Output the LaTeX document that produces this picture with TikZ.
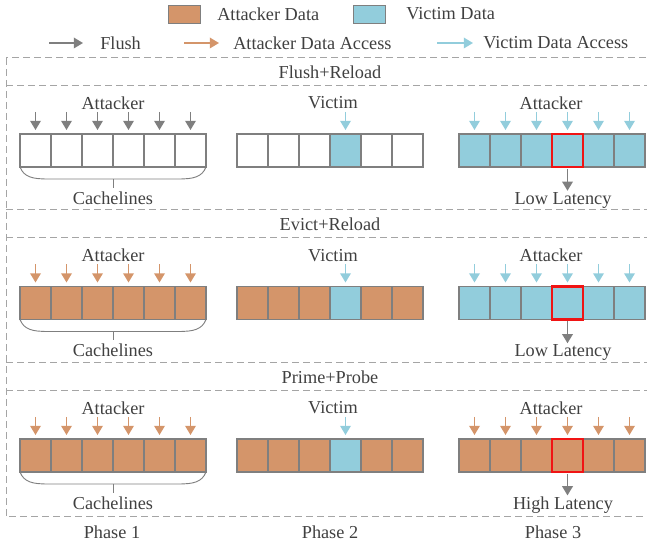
\documentclass[tikz,border=0pt]{standalone}
\usepackage{fontspec}
\setmainfont{Liberation Serif}
\usetikzlibrary{arrows.meta}
\definecolor{attk}{RGB}{212,149,106}
\definecolor{vict}{RGB}{146,205,220}
\definecolor{edge}{RGB}{127,127,127}
\definecolor{txt}{RGB}{64,64,64}
\definecolor{framec}{RGB}{165,165,165}
\definecolor{hot}{RGB}{240,20,20}

\begin{document}
\begin{tikzpicture}[x=0.75pt,y=-0.75pt,
  font=\fontsize{13.7}{16}\selectfont,
  cell/.style={draw=edge, line width=0.825pt, minimum width=23.25pt,
    minimum height=24.75pt, inner sep=0pt, outer sep=0pt},
  swatch/.style={draw=edge, line width=0.6pt, minimum width=24pt,
    minimum height=13.5pt, inner sep=0pt},
  lbl/.style={inner sep=0pt, text=txt},
  tipd/.style={-{Triangle[width=7.9pt,length=6.9pt]}, line width=1.35pt},
  flusharrow/.style={tipd, draw=edge},
  attarrow/.style={tipd, draw=attk},
  vicarrow/.style={tipd, draw=vict},
  sep/.style={draw=framec, dash pattern=on 5.25pt off 3pt, line width=0.75pt},
  bracel/.style={draw=edge, line width=0.675pt}]

\useasboundingbox (0,0) rectangle (647,541);

% legend
\node[swatch, fill=attk] (swA) at (184,14) {};
\node[lbl, anchor=west] (tA) at (217,14) {Attacker Data};
\node[swatch, fill=vict] (swV) at (369,14) {};
\node[lbl, anchor=west] (tV) at (406,14) {Victim Data};

\coordinate (lf0) at (49,43);  \coordinate (lf1) at (83,43);
\coordinate (la0) at (184,43); \coordinate (la1) at (219,43);
\coordinate (lv0) at (437,43); \coordinate (lv1) at (473,43);
\draw[flusharrow] (lf0) -- (lf1);
\draw[attarrow] (la0) -- (la1);
\draw[vicarrow] (lv0) -- (lv1);
\node[lbl, anchor=west] (tF) at (100,43) {Flush};
\node[lbl, anchor=west] (tAA) at (233,43) {Attacker Data Access};
\node[lbl, anchor=west] (tVA) at (483,43) {Victim Data Access};

% dashed frame and section separators
\draw[sep] (6,58) rectangle (648,517);
\foreach \yy in {86,210,238,363,391}
  \draw[sep] (6,\yy) -- (648,\yy);

% the three attack sections
\foreach \r/\b/\title/\fa/\aa/\fc/\ac/\lat in {
  1/0/Flush+Reload/white/flusharrow/vict/vicarrow/Low Latency,
  2/152.5/Evict+Reload/attk/attarrow/vict/vicarrow/Low Latency,
  3/305/Prime+Probe/attk/attarrow/attk/attarrow/High Latency}
{
  \node[lbl] (title\r) at (330,72+\b) {\title};
  \node[lbl] (who\r-1) at (113,103+\b) {Attacker};
  \node[lbl] (who\r-2) at (333,103+\b) {Victim};
  \node[lbl] (who\r-3) at (551,103+\b) {Attacker};

  % phase 1: attacker fills every line
  \foreach \k in {1,...,6}{
    \pgfmathsetmacro\cx{35.5+31*(\k-1)}
    \node[cell, fill=\fa] (c\r-1-\k) at (\cx,150.5+\b) {};
    \coordinate (a\r-1-\k) at (\cx,112+\b);
    \draw[\aa, shorten >=3pt] (a\r-1-\k) -- (c\r-1-\k);
  }
  \draw[bracel] (c\r-1-1.south west) .. controls +(4,10) and +(-16,0) .. (48,179+\b)
     -- (178,179+\b) .. controls +(16,0) and +(-4,10) .. (c\r-1-6.south east);
  \coordinate (bt\r) at (113,179+\b);
  \coordinate (bb\r) at (113,188+\b);
  \draw[bracel] (bt\r) -- (bb\r);
  \node[lbl] (cl\r) at (113,198+\b) {Cachelines};

  % phase 2: victim touches one line
  \foreach \k in {1,...,6}{
    \pgfmathsetmacro\cx{252.5+31*(\k-1)}
    \ifnum\k=4 \def\ff{vict}\else \def\ff{\fa}\fi
    \node[cell, fill=\ff] (c\r-2-\k) at (\cx,150.5+\b) {};
  }
  \coordinate (a\r-2-4) at (345.5,112+\b);
  \draw[vicarrow, shorten >=3pt] (a\r-2-4) -- (c\r-2-4);

  % phase 3: attacker probes again
  \foreach \k in {1,...,6}{
    \pgfmathsetmacro\cx{474.5+31*(\k-1)}
    \node[cell, fill=\fc] (c\r-3-\k) at (\cx,150.5+\b) {};
    \coordinate (a\r-3-\k) at (\cx,112+\b);
    \draw[\ac, shorten >=3pt] (a\r-3-\k) -- (c\r-3-\k);
  }
  \draw[hot, line width=2pt] (c\r-3-4.south west) rectangle (c\r-3-4.north east);
  \node[lbl] (lat\r) at (563,200+\b) {\lat};
  \draw[flusharrow, shorten >=0.75pt] ([yshift=-1.5pt]c\r-3-4.south) -- (c\r-3-4.south |- lat\r.north);
}

% phase captions
\node[lbl] (ph1) at (112,532) {Phase 1};
\node[lbl] (ph2) at (330,532) {Phase 2};
\node[lbl] (ph3) at (553,532) {Phase 3};
\end{tikzpicture}
\end{document}
